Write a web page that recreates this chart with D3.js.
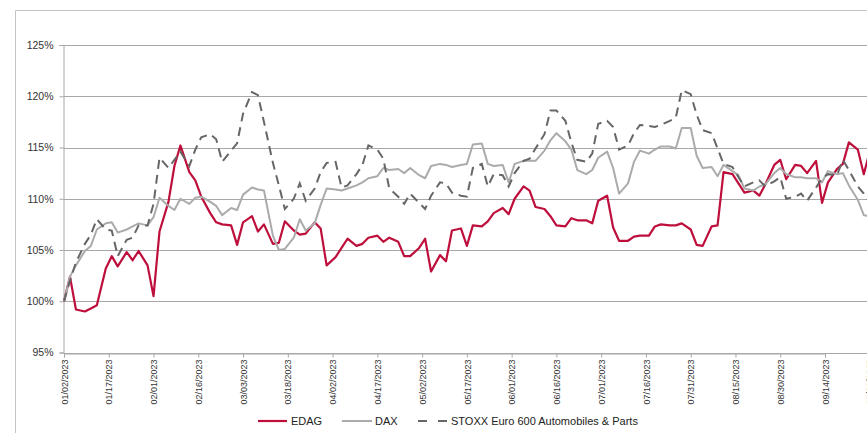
<!DOCTYPE html>
<html><head><meta charset="utf-8">
<script src="https://cdn.jsdelivr.net/npm/d3@7"></script>
<style>html,body{margin:0;padding:0;background:#fff;overflow:hidden}svg{display:block}</style>
</head><body>
<svg id="c" width="867" height="433"></svg>
<script>
// Trading dates (Mon/Wed/Fri sampling)
const dates = [
"2023-01-02","2023-01-04","2023-01-06","2023-01-09","2023-01-11","2023-01-13","2023-01-16","2023-01-18","2023-01-20",
"2023-01-23","2023-01-25","2023-01-27","2023-01-30","2023-02-01","2023-02-03","2023-02-06","2023-02-08","2023-02-10",
"2023-02-13","2023-02-15","2023-02-17","2023-02-20","2023-02-22","2023-02-24","2023-02-27","2023-03-01","2023-03-03",
"2023-03-06","2023-03-08","2023-03-10","2023-03-13","2023-03-15","2023-03-17","2023-03-20","2023-03-22","2023-03-24",
"2023-03-27","2023-03-29","2023-03-31","2023-04-03","2023-04-05","2023-04-07","2023-04-10","2023-04-12","2023-04-14",
"2023-04-17","2023-04-19","2023-04-21","2023-04-24","2023-04-26","2023-04-28","2023-05-01","2023-05-03","2023-05-05",
"2023-05-08","2023-05-10","2023-05-12","2023-05-15","2023-05-17","2023-05-19","2023-05-22","2023-05-24","2023-05-26",
"2023-05-29","2023-05-31","2023-06-02","2023-06-05","2023-06-07","2023-06-09","2023-06-12","2023-06-14","2023-06-16",
"2023-06-19","2023-06-21","2023-06-23","2023-06-26","2023-06-28","2023-06-30","2023-07-03","2023-07-05","2023-07-07",
"2023-07-10","2023-07-12","2023-07-14","2023-07-17","2023-07-19","2023-07-21","2023-07-24","2023-07-26","2023-07-28",
"2023-07-31","2023-08-02","2023-08-04","2023-08-07","2023-08-09","2023-08-11","2023-08-14","2023-08-16","2023-08-18",
"2023-08-21","2023-08-23","2023-08-25","2023-08-28","2023-08-30","2023-09-01","2023-09-04","2023-09-06","2023-09-08",
"2023-09-11","2023-09-13","2023-09-15","2023-09-18","2023-09-20","2023-09-22","2023-09-25","2023-09-27","2023-09-29"];

const edag = [
100.0,102.4,99.2, 99.0,99.3,99.6, 103.2,104.4,103.4,
104.8,104.0,104.9, 103.5,100.5,106.8, 109.7,113.2,115.2,
112.6,111.8,110.2, 108.6,107.7,107.5, 107.4,105.5,107.7,
108.3,106.8,107.5, 105.6,105.7,107.8, 106.9,106.5,106.6,
107.7,107.1,103.5, 104.3,105.2,106.1, 105.4,105.6,106.2,
106.4,105.8,106.2, 105.8,104.4,104.4, 105.2,106.1,102.9,
104.5,103.9,106.9, 107.1,105.4,107.4, 107.3,107.8,108.6,
109.1,108.5,110.0, 111.2,110.8,109.2, 109.0,108.3,107.4,
107.3,108.1,107.9, 107.9,107.6,109.8, 110.3,107.2,105.9,
105.9,106.3,106.4, 106.4,107.3,107.5, 107.4,107.4,107.6,
107.0,105.5,105.4, 107.3,107.4,112.6, 112.4,111.5,110.6,
110.8,110.3,111.4, 113.3,113.8,111.9, 113.3,113.2,112.5,
113.7,109.6,111.6, 112.9,113.4,115.5, 114.8,112.4,114.6];

const dax = [
100.0,102.4,103.5, 104.9,105.4,107.0, 107.6,107.7,106.7,
107.0,107.3,107.6, 107.4,108.2,110.1, 109.3,108.9,110.0,
109.5,110.1,110.2, 109.7,109.3,108.4, 109.1,108.9,110.4,
111.1,110.9,110.8, 106.4,105.0,105.1, 106.2,108.0,106.9,
107.6,109.4,111.0, 110.9,110.8,111.0, 111.3,111.6,112.0,
112.2,113.0,112.8, 112.9,112.5,113.0, 112.3,112.0,113.2,
113.4,113.3,113.1, 113.3,113.4,115.3, 115.4,113.4,113.2,
113.3,111.6,113.4, 113.7,113.7,113.7, 114.7,115.7,116.4,
115.6,114.8,112.8, 112.4,112.8,114.0, 114.6,113.0,110.5,
111.5,113.6,114.7, 114.4,114.8,115.1, 115.1,114.9,116.9,
116.9,114.2,113.0, 113.1,112.2,113.3, 112.7,112.3,111.0,
110.8,111.2,111.4, 112.5,113.0,112.4, 112.1,112.1,112.0,
112.0,111.6,112.7, 112.4,112.5,111.3, 109.9,108.4,108.3];

const stoxx = [
100.0,102.0,103.8, 105.6,106.5,108.0, 107.0,106.9,104.4,
106.0,106.2,107.4, 107.4,109.5,114.0, 113.0,113.8,114.6,
113.2,114.8,116.0, 116.3,115.8,113.6, 114.7,115.4,118.3,
120.4,120.1,117.5, 113.5,111.3,109.0, 110.0,111.5,109.8,
111.0,112.6,113.5, 113.6,111.1,111.3, 112.4,113.3,115.2,
114.8,113.9,111.0, 110.2,109.5,110.5, 109.6,109.0,110.3,
111.6,111.5,110.6, 110.3,110.2,113.0, 113.4,111.2,112.4,
112.3,111.2,112.5, 113.7,113.9,114.9, 116.3,118.6,118.6,
117.6,115.5,113.8, 113.6,114.4,117.3, 117.6,117.0,114.8,
115.2,116.4,117.2, 117.1,117.0,117.2, 117.6,117.9,120.6,
120.2,118.2,116.7, 116.4,114.9,113.4, 113.1,112.1,111.2,
111.6,111.8,111.2, 111.7,112.1,110.0, 110.2,110.5,109.8,
111.1,112.0,112.4, 112.3,113.8,112.8, 111.2,110.5,109.6];

const xTickLabels = ["01/02/2023","01/17/2023","02/01/2023","02/16/2023","03/03/2023","03/18/2023","04/02/2023",
"04/17/2023","05/02/2023","05/17/2023","06/01/2023","06/16/2023","07/01/2023","07/16/2023","07/31/2023",
"08/15/2023","08/30/2023","09/14/2023","09/29/2023"];
const yTicks = [95,100,105,110,115,120,125];
const seriesNames = ["EDAG","DAX","STOXX Euro 600 Automobiles & Parts"];

const parse = d3.timeParse("%Y-%m-%d");
const parseTick = d3.timeParse("%m/%d/%Y");
const svg = d3.select("#c");
const font = "'Liberation Sans', Arial, sans-serif";

svg.append("rect").attr("width",867).attr("height",433).attr("fill","#fff");
// outer frame
svg.append("path").attr("d","M15.5,433V10.5H867").attr("fill","none").attr("stroke","#c4c4c4").attr("stroke-width",1);

const x = d3.scaleTime()
  .domain([parse("2023-01-02"), parse("2023-09-14")])
  .range([64, 825]);
const y = d3.scaleLinear().domain([95,125]).range([352.5,45]);

// gridlines
svg.append("g").selectAll("line").data(yTicks).join("line")
  .attr("x1",63.5).attr("x2",867)
  .attr("y1",d=>Math.round(y(d))+0.5).attr("y2",d=>Math.round(y(d))+0.5)
  .attr("stroke","#a8a8a8").attr("stroke-width",1);

// y axis
const yAxis = d3.axisLeft(y).tickValues(yTicks).tickSize(4).tickFormat(d=>d+"%");
const gy = svg.append("g").attr("transform","translate(63.5,0)").call(yAxis);
gy.select(".domain").attr("stroke","#a8a8a8");
gy.selectAll(".tick line").attr("stroke","#a8a8a8");
gy.selectAll(".tick text").attr("x",-10).attr("font-family",font).attr("font-size","10.5px").attr("fill","#333");

// x axis
const xAxis = d3.axisBottom(x).tickValues(xTickLabels.map(parseTick)).tickSize(4).tickFormat(d3.timeFormat("%m/%d/%Y"));
const gx = svg.append("g").attr("transform","translate(0,"+(Math.round(y(95))+0.5)+")").call(xAxis);
gx.select(".domain").attr("stroke","#a8a8a8");
gx.selectAll(".tick line").attr("stroke","#a8a8a8");
gx.selectAll(".tick text")
  .attr("font-family",font).attr("font-size","9px").attr("fill","#333")
  .attr("transform","rotate(-90)").attr("text-anchor","end")
  .attr("x",-6).attr("y",0).attr("dy","0.35em");

// lines
const data = dates.map((d,i)=>({date:parse(d), edag:edag[i], dax:dax[i], stoxx:stoxx[i]}));
const mk = key => d3.line().x(d=>x(d.date)).y(d=>y(d[key]));
svg.append("path").datum(data).attr("d",mk("edag")).attr("fill","none")
  .attr("stroke","#BE0F3C").attr("stroke-width",2.2).attr("stroke-linejoin","round");
svg.append("path").datum(data).attr("d",mk("dax")).attr("fill","none")
  .attr("stroke","#ababab").attr("stroke-width",2).attr("stroke-linejoin","round");
svg.append("path").datum(data).attr("d",mk("stoxx")).attr("fill","none")
  .attr("stroke","#666").attr("stroke-width",2).attr("stroke-dasharray","9,6");

// legend
const lg = svg.append("g");
const ly = 421;
lg.append("line").attr("x1",258).attr("x2",287).attr("y1",ly).attr("y2",ly).attr("stroke","#BE0F3C").attr("stroke-width",2.2);
lg.append("text").attr("x",291).attr("y",ly).attr("dy","0.35em").text(seriesNames[0]);
lg.append("line").attr("x1",342).attr("x2",372).attr("y1",ly).attr("y2",ly).attr("stroke","#ababab").attr("stroke-width",2);
lg.append("text").attr("x",375).attr("y",ly).attr("dy","0.35em").text(seriesNames[1]);
lg.append("line").attr("x1",418).attr("x2",447).attr("y1",ly).attr("y2",ly).attr("stroke","#666").attr("stroke-width",2).attr("stroke-dasharray","9,11");
lg.append("text").attr("x",451).attr("y",ly).attr("dy","0.35em").text(seriesNames[2]);
lg.selectAll("text").attr("font-family",font).attr("font-size","11px").attr("fill","#222");
</script>
</body></html>
